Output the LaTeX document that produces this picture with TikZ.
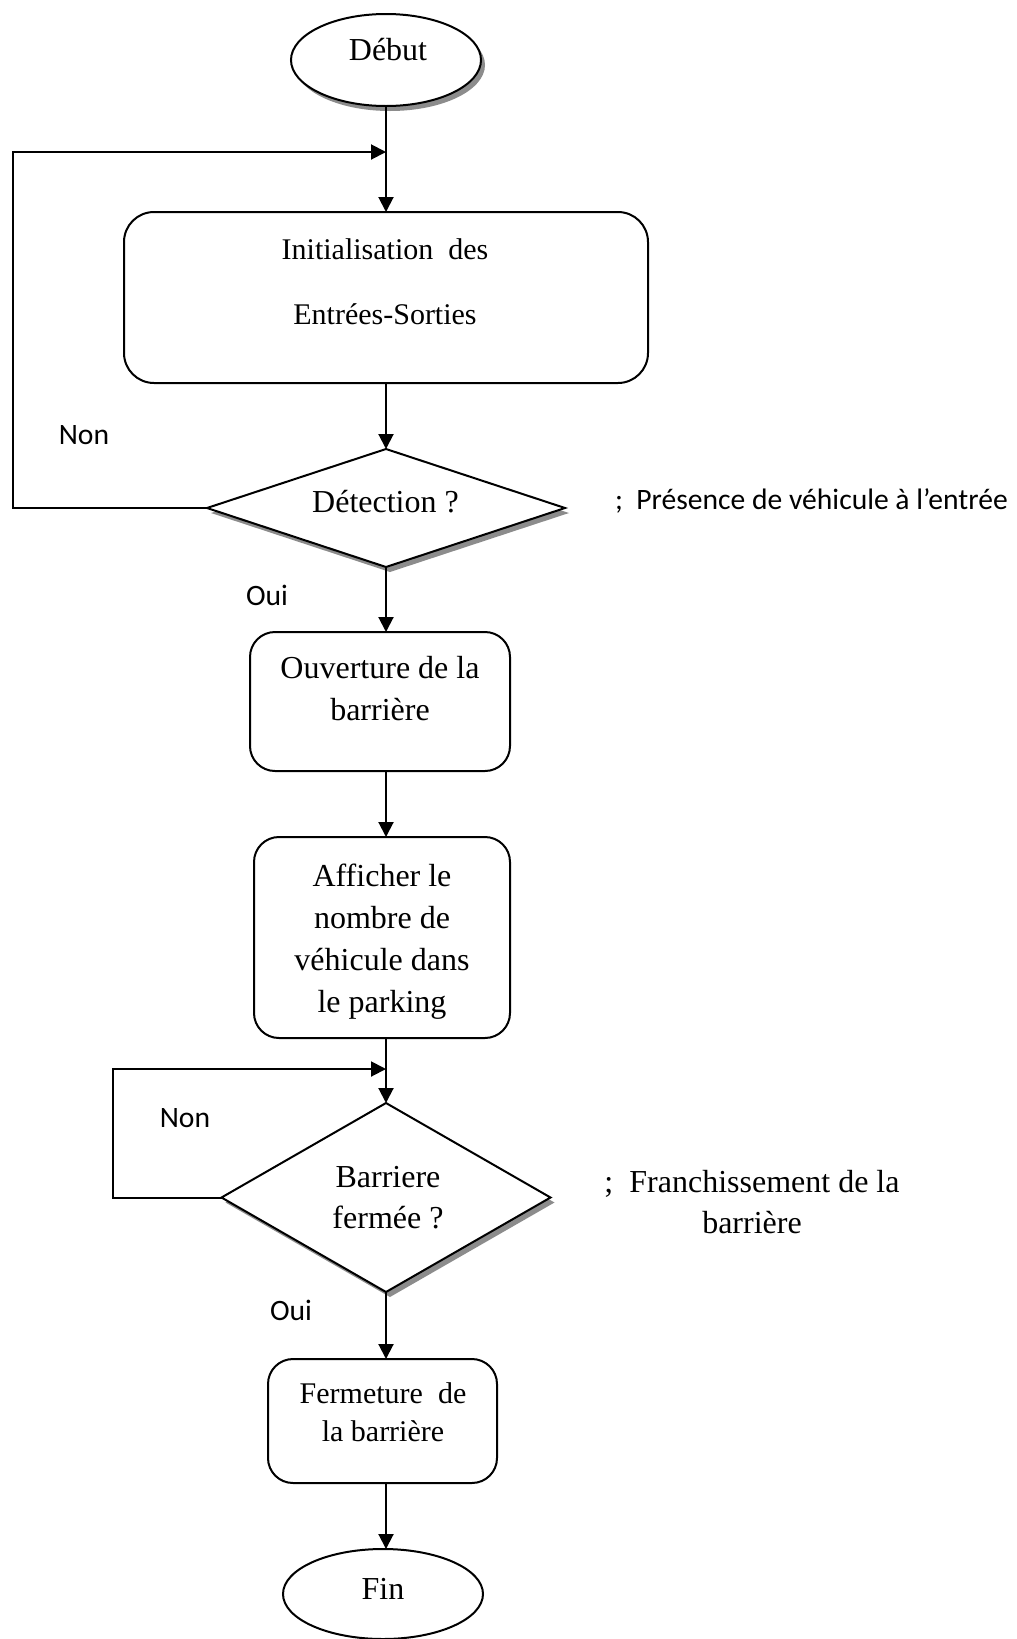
\documentclass[tikz,border=0pt]{standalone}
\usepackage{fontspec}
\setmainfont{Liberation Serif}
\newfontfamily\calibri{Carlito}
\usetikzlibrary{shapes.geometric,arrows.meta,shadows}
\begin{document}
\begin{tikzpicture}[x=1pt,y=-1pt,
  line width=2pt,
  every node/.style={inner sep=0pt, outer sep=0pt},
  termbox/.style={draw, ellipse, fill=white},
  shadowed/.style={drop shadow={shadow xshift=4pt, shadow yshift=-5pt, fill=gray!90, opacity=1}},
  procbox/.style={draw, rectangle, fill=white, rounded corners=25pt},
  decision/.style={draw, diamond, fill=white},
  serif/.style={font=\fontsize{32}{38}\selectfont, align=center},
  sans/.style={font=\calibri\fontsize{29.6}{34}\selectfont},
  flow/.style={-{Triangle[length=15pt,width=15pt]}},
]
\useasboundingbox (0,0) rectangle (1017,1639);

% nodes
\node[termbox, shadowed, minimum width=190pt, minimum height=92pt] (start) at (386,60) {};
\node[serif] (tStart) at (388,50) {Début};

\node[procbox, rounded corners=30pt, minimum width=524pt, minimum height=171pt] (init) at (386,297.5) {};
\node[serif, font=\fontsize{30}{65}\selectfont] (tInit) at (385,281.5) {Initialisation~ des\\Entrées-Sorties};

\node[decision, shadowed, minimum width=358pt, minimum height=118pt] (d1) at (386,508) {};
\node[serif] (tD1) at (385.5,502) {Détection ?};

\node[procbox, minimum width=260pt, minimum height=139pt] (ouv) at (380,701.5) {};
\node[serif, font=\fontsize{32}{42}\selectfont] (tOuv) at (380,689) {Ouverture de la\\barrière};

\node[procbox, minimum width=256pt, minimum height=201pt] (aff) at (382,937.5) {};
\node[serif, font=\fontsize{32}{41.8}\selectfont] (tAff) at (382,941.5) {Afficher le\\nombre de\\véhicule dans\\le parking};

\node[decision, shadowed, minimum width=329pt, minimum height=189pt] (d2) at (386,1197.5) {};
\node[serif, font=\fontsize{32}{41}\selectfont] (tD2) at (388,1198) {Barriere\\fermée ?};

\node[procbox, minimum width=229pt, minimum height=124pt] (ferm) at (382.5,1421) {};
\node[serif, font=\fontsize{30}{37.6}\selectfont] (tFerm) at (383,1412.5) {Fermeture~ de\\la barrière};

\node[termbox, minimum width=200pt, minimum height=90pt] (fin) at (383,1594) {};
\node[serif] (tFin) at (383,1588.5) {Fin};

% labels
\node[sans] (non1) at (84,435) {Non};
\node[sans] (oui1) at (267,595) {Oui};
\node[sans] (non2) at (185,1118) {Non};
\node[sans] (oui2) at (291,1310) {Oui};
\node[sans, anchor=west] (note1) at (615,501) {;\ \ Présence de véhicule à l’entrée};
\node[serif, font=\fontsize{32}{41}\selectfont] (note2) at (752,1202.5) {;\ \ Franchissement de la\\barrière};

% connectors
\coordinate (j1) at (386,152);
\coordinate (l1) at (13,152);
\coordinate (j2) at (386,1069);
\coordinate (l2) at (113,1069);

\draw[flow] (start.south) -- (init.north);
\draw[flow] (init.south) -- (d1.north);
\draw[flow] (d1.south) -- (d1.south |- ouv.north);
\draw[flow] (d1.south |- ouv.south) -- (d1.south |- aff.north);
\draw[flow] (d1.south |- aff.south) -- (d2.north);
\draw[flow] (d2.south) -- (d2.south |- ferm.north);
\draw[flow] (d2.south |- ferm.south) -- (d2.south |- fin.north);

\draw[flow] (d1.west) -| (l1) -- (j1);
\draw[flow] (d2.west) -| (l2) -- (j2);
\end{tikzpicture}
\end{document}
